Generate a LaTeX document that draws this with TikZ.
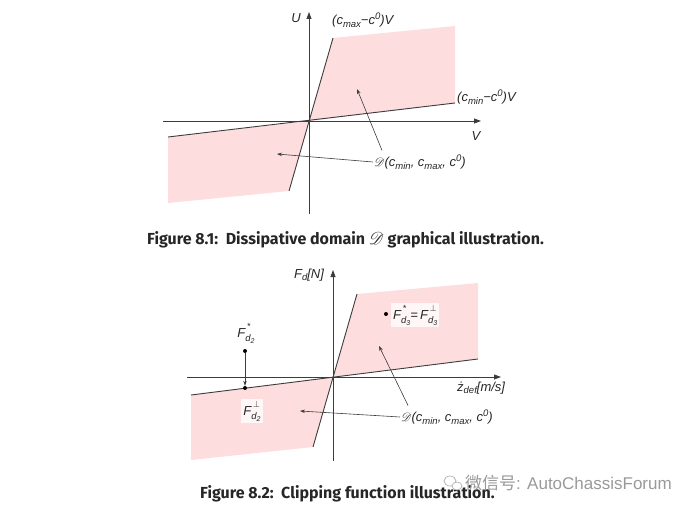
\documentclass[tikz,border=0pt]{standalone}
\usepackage{fontspec}
\usepackage{mathrsfs}
\setmainfont{Liberation Sans}
\newfontfamily\capfont{Fira Sans}
\newfontfamily\cjk{Noto Sans CJK SC}
\usetikzlibrary{arrows.meta}
\definecolor{domainpink}{RGB}{253,221,221}
\definecolor{linegray}{RGB}{60,60,60}
\newcommand{\lsub}[1]{\raisebox{-0.35ex}{\fontsize{9.5}{10}\selectfont #1}}
\newcommand{\lsup}[1]{\raisebox{0.8ex}{\fontsize{9.5}{10}\selectfont #1}}
\newcommand{\lsubb}[1]{\raisebox{-0.55ex}{\fontsize{9.5}{10}\selectfont #1}}
\newcommand{\lsupp}[1]{\raisebox{1.25ex}{\fontsize{9}{10}\selectfont #1}}
\newcommand{\ssub}[1]{\raisebox{-0.3ex}{\fontsize{7}{8}\selectfont #1}}
\newsavebox{\lssa}\newsavebox{\lssb}
\newcommand{\lss}[2]{\sbox{\lssa}{\lsubb{#1}}\sbox{\lssb}{\hspace{1.5pt}\lsupp{#2}}%
  \ifdim\wd\lssa>\wd\lssb\rlap{\usebox{\lssb}}\usebox{\lssa}\else\rlap{\usebox{\lssa}}\usebox{\lssb}\fi}
\tikzset{
  axis/.style={draw=linegray, line width=0.8pt, -{Triangle[length=7pt,width=5pt]}},
  bound/.style={draw=linegray, line width=0.9pt},
  region/.style={fill=domainpink, draw=none},
  pointer/.style={draw=linegray, line width=0.6pt, -{Stealth[length=5pt,width=3.5pt]}},
  lbl/.style={font=\fontsize{13}{15}\selectfont\itshape, text=black!85, inner sep=1pt},
  boxlbl/.style={lbl, fill=white!97!red, inner sep=2pt},
  caption/.style={font=\capfont\bfseries\fontsize{16}{19}\selectfont, text=black!85, inner sep=0pt},
  dot/.style={circle, fill=black, inner sep=0pt, minimum size=4pt},
}
\begin{document}
\begin{tikzpicture}[x=1pt,y=-1pt]
\useasboundingbox (0,0) rectangle (695,513);
% ===== Figure 8.1 =====
\begin{scope}
\coordinate (o1) at (309,121);
\fill[region] (o1) -- (333,38) -- (455,26) -- (455,103) -- cycle;
\fill[region] (o1) -- (168,137) -- (168,203) -- (289,191) -- cycle;
\coordinate (xl1) at (163,121);
\coordinate (xr1) at (481,121);
\coordinate (yb1) at (309,214);
\coordinate (yt1) at (309,12);
\draw[axis] (xl1) -- (xr1);
\draw[axis] (yb1) -- (yt1);
\coordinate (s1a) at (289,191);
\coordinate (s1b) at (333,38);
\coordinate (h1a) at (168,137);
\coordinate (h1b) at (455,103);
\draw[bound] (s1a) -- (s1b);
\draw[bound] (h1a) -- (h1b);
\node[lbl] (U) at (296,18) {U};
\node[lbl] (V) at (476,136) {V};
\node[lbl, anchor=west] (cmax1) at (331,20) {(c\lsub{max}−c\lsup{0})V};
\node[lbl, anchor=west] (cmin1) at (456,97) {(c\lsub{min}−c\lsup{0})V};
\node[lbl, anchor=west] (D1) at (373,162) {$\mathscr{D}$(c\lsub{min}, c\lsub{max}, c\lsup{0})};
\coordinate (t1a) at (357,89);
\coordinate (t1b) at (277,154);
\draw[pointer] ([xshift=9pt,yshift=3pt]D1.north west) -- (t1a);
\draw[pointer] (D1.west) -- (t1b);
\end{scope}
\node[caption, anchor=west] (cap1) at (147,240) {Figure 8.1:\ \ Dissipative domain $\mathscr{D}$ graphical illustration.};
% ===== Figure 8.2 =====
\begin{scope}
\coordinate (o2) at (333,377);
\fill[region] (o2) -- (357,294) -- (478,283) -- (478,359) -- cycle;
\fill[region] (o2) -- (191,395) -- (191,460) -- (313,447) -- cycle;
\coordinate (xl2) at (187,377);
\coordinate (xr2) at (501,377);
\coordinate (yb2) at (333,461);
\coordinate (yt2) at (333,270);
\draw[axis] (xl2) -- (xr2);
\draw[axis] (yb2) -- (yt2);
\coordinate (s2a) at (313,447);
\coordinate (s2b) at (357,294);
\coordinate (h2a) at (191,395);
\coordinate (h2b) at (478,359);
\draw[bound] (s2a) -- (s2b);
\draw[bound] (h2a) -- (h2b);
\node[lbl] (Fd) at (309,275) {F\lsub{d}[N]};
\node[lbl, anchor=west] (zdef) at (456,388) {ż\lsub{def}[m/s]};
\node[dot] (p3) at (386,314) {};
\node[boxlbl, anchor=west] (F3) at (391,315) {F\lss{d\ssub{3}}{*}=\,F\lss{d\ssub{3}}{$\perp$}};
\node[lbl] (F2s) at (246,333) {F\lss{d\ssub{2}}{*}};
\node[dot] (p2s) at (245,351) {};
\node[dot] (p2p) at (245,388) {};
\draw[pointer] (p2s) -- (p2p);
\node[boxlbl] (F2p) at (252,411) {F\lss{d\ssub{2}}{$\perp$}};
\node[lbl, anchor=west] (D2) at (400,417) {$\mathscr{D}$(c\lsub{min}, c\lsub{max}, c\lsup{0})};
\coordinate (t2a) at (379,346);
\coordinate (t2b) at (300,411);
\draw[pointer] ([xshift=8pt,yshift=3pt]D2.north west) -- (t2a);
\draw[pointer] (D2.west) -- (t2b);
\end{scope}
\node[caption, anchor=west] (cap2) at (200,494) {Figure 8.2:\ \ Clipping function illustration.};
% watermark
\begin{scope}[draw=black!30, line width=0.7pt]
\draw (450,481) ellipse [x radius=6pt, y radius=5pt];
\draw[fill=white] (457,486) ellipse [x radius=5pt, y radius=4pt];
\end{scope}
\node[anchor=west, inner sep=0pt, text=black!40, font=\fontsize{17}{19}\selectfont] (wm) at (465,483) {{\cjk 微信号}: AutoChassisForum};
\end{tikzpicture}
\end{document}
